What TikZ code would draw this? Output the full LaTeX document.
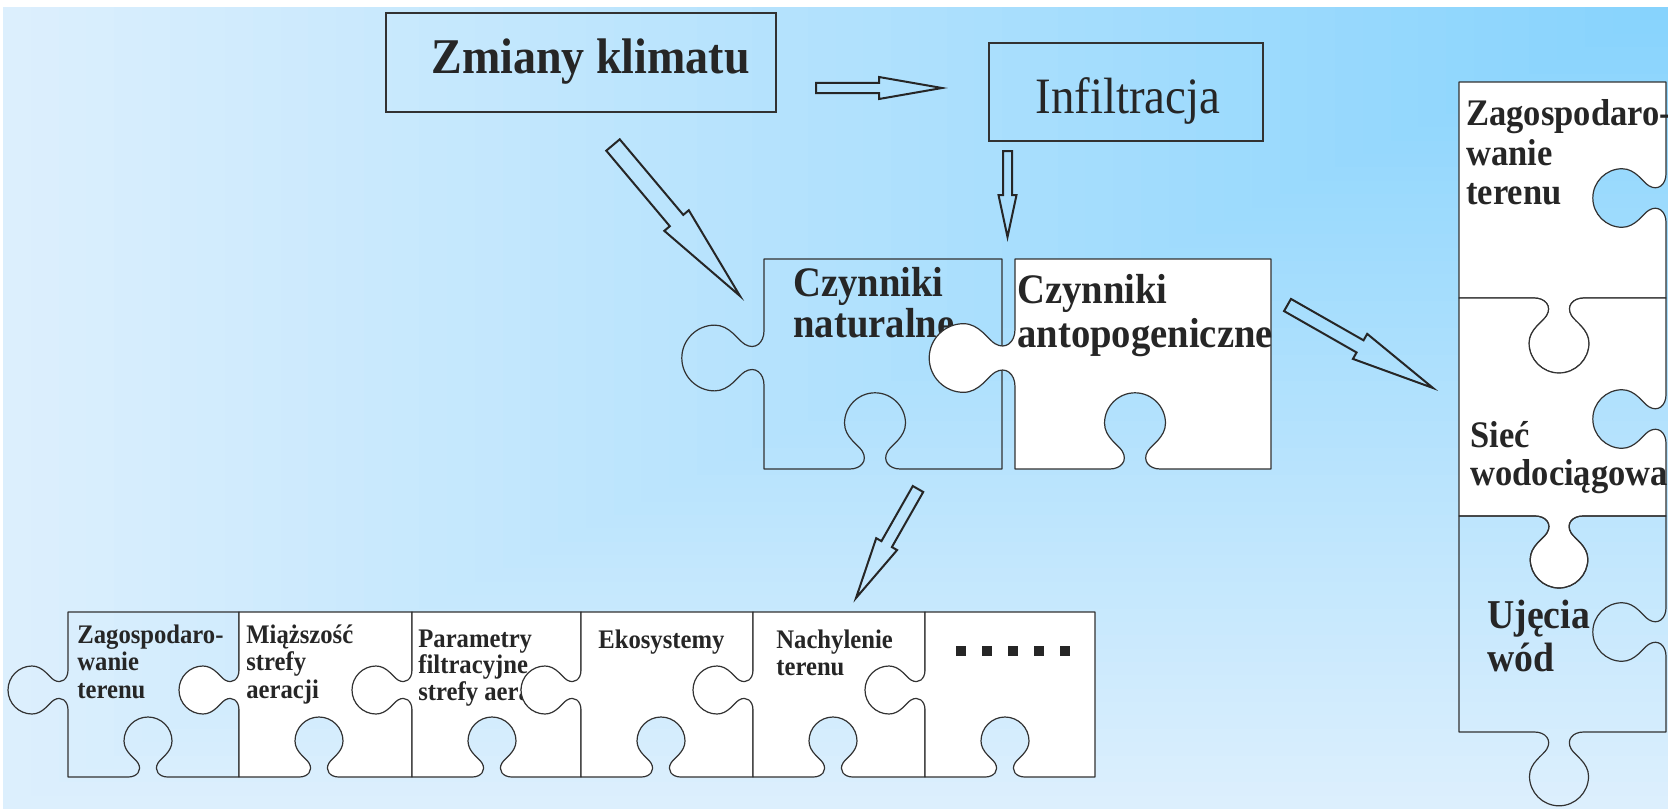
\documentclass[tikz,border=0pt]{standalone}
\usepackage{fontspec}
\setmainfont{Liberation Serif}[FakeStretch=0.92]
\usetikzlibrary{calc}
\definecolor{bgdark}{RGB}{134,211,253}
\definecolor{bglight}{RGB}{220,239,253}
\definecolor{ink}{RGB}{38,38,38}
\definecolor{edgec}{RGB}{50,50,50}

\newcommand\mlines[1]{\vtop{\lineskiplimit=-50pt\lineskip=0pt\halign{##\hfil\cr#1\crcr}}}

% knob coordinates: name, cx, cy, along-x, along-y, out-x, out-y, scale
\newcommand\mkknob[8]{%
  \foreach \kI/\kU/\kV in {0/-20/0,1/-11/0,2/-5.5/6.5,3/-10/14,4/-13/19,5/-24/25,6/-24/36,7/-24/49.2,8/-13.2/60,9/0/60,10/13.2/60,11/24/49.2,12/24/36,13/24/25,14/13/19,15/10/14,16/5.5/6.5,17/11/0,18/20/0}
    {\coordinate (#1-\kI) at ({#2+#8*((\kU)*(#4)+(\kV)*(#6))},{#3+#8*((\kU)*(#5)+(\kV)*(#7))});}%
}

\tikzset{
  kp/.style={insert path={-- (#1-0) .. controls (#1-1) and (#1-2) .. (#1-3) .. controls (#1-4) and (#1-5) .. (#1-6) .. controls (#1-7) and (#1-8) .. (#1-9) .. controls (#1-10) and (#1-11) .. (#1-12) .. controls (#1-13) and (#1-14) .. (#1-15) .. controls (#1-16) and (#1-17) .. (#1-18)}},
  piece/.style={draw=edgec, line width=0.6pt, line join=round},
  box/.style={draw=edgec, line width=0.65pt, inner sep=0pt},
  arrowline/.style={draw=ink, line width=1pt, line join=miter},
  lbl/.style={anchor=base west, inner sep=0pt, text=ink},
}

% block arrow: tail, tip, shaft half width, head half width, head length
\newcommand\blockarrow[5]{%
  \path ($(#2)!#5!(#1)$) coordinate (#2-base);
  \draw[arrowline] ($(#1)!#3!90:(#2)$) -- ($(#2-base)!#3!90:(#2)$) -- ($(#2-base)!#4!90:(#2)$) -- (#2) -- ($(#2-base)!#4!-90:(#2)$) -- ($(#2-base)!#3!-90:(#2)$) -- ($(#1)!#3!-90:(#2)$) -- cycle;
}

% bottom-row piece: name, left, right, fill
\newcommand\bpiece[4]{%
  \mkknob{#1b}{#2+80}{777}{-1}{0}{0}{-1}{1}
  \mkknob{#1l}{#2}{690}{0}{-1}{-1}{0}{1}
  \draw[piece, fill=#4] (#2,612) -- (#3,612) -- (#3,777) [kp=#1b] -- (#2,777) [kp=#1l] -- cycle;
}

\begin{document}
\begin{tikzpicture}[x=0.5pt, y=-0.5pt]
\useasboundingbox (0,0) rectangle (1668,809);
\fill[white] (0,0) rectangle (1668,809);
% background: rectangular gradient from the top-right corner
\foreach \k in {60,59,...,1}{%
  \pgfmathsetmacro\vv{\k/60}%
  \pgfmathsetmacro\pp{100*\vv}%
  \fill[bglight!\pp!bgdark] ({1668-\vv*1665},7) rectangle (1668,{7+\vv*802});
}

% top boxes
\node[box, minimum width=195pt, minimum height=49.5pt] (zbox) at (581,62.5) {};
\node[lbl, font=\bfseries\fontsize{25}{30}\selectfont] (ztext) at (431,73) {Zmiany klimatu};
\node[box, minimum width=137pt, minimum height=49pt] (ibox) at (1126,92) {};
\node[lbl, font=\fontsize{25.5}{30}\selectfont] (itext) at (1035,113) {Infiltracja};

% arrows
\coordinate (a1t) at (816,88);   \coordinate (a1h) at (942,88);
\coordinate (a2t) at (1007.5,151); \coordinate (a2h) at (1007.5,237);
\coordinate (a3t) at (613,145);  \coordinate (a3h) at (740,296);
\coordinate (a4t) at (918,489);  \coordinate (a4h) at (856,598);
\coordinate (a5t) at (1287.5,305); \coordinate (a5h) at (1433,388);
\blockarrow{a1t}{a1h}{2.6pt}{5.5pt}{31.5pt}
\blockarrow{a2t}{a2h}{2.25pt}{4.5pt}{21pt}
\blockarrow{a3t}{a3h}{4.4pt}{8pt}{49.3pt}
\blockarrow{a4t}{a4h}{3pt}{6pt}{31pt}
\blockarrow{a5t}{a5h}{3.5pt}{7.2pt}{42pt}

% central pair
\mkknob{nb}{875}{469}{-1}{0}{0}{-1}{1.27}
\mkknob{nl}{764}{358}{0}{-1}{-1}{0}{1.37}
\draw[piece] (764,259) -- (1002,259) -- (1002,469) [kp=nb] -- (764,469) [kp=nl] -- cycle;
\node[lbl, font=\bfseries\fontsize{21}{20.5}\selectfont] (ntext) at (793,296) {\mlines{Czynniki\cr naturalne}};
\mkknob{ab}{1135}{469}{-1}{0}{0}{-1}{1.27}
\mkknob{al}{1015}{358}{0}{-1}{-1}{0}{1.43}
\draw[piece, fill=white] (1015,259) -- (1271,259) -- (1271,469) [kp=ab] -- (1015,469) [kp=al] -- cycle;
\node[lbl, font=\bfseries\fontsize{21}{22}\selectfont] (atext) at (1017,303) {\mlines{Czynniki\cr antopogeniczne}};

% bottom row
\bpiece{p1}{68}{239}{none}
\node[lbl, font=\bfseries\fontsize{13.4}{13.75}\selectfont] (t1) at (77,643) {\mlines{Zagospodaro-\cr wanie\cr terenu}};
\bpiece{p2}{239}{412}{white}
\node[lbl, font=\bfseries\fontsize{13.4}{13.75}\selectfont] (t2) at (246,643) {\mlines{Miąższość\cr strefy\cr aeracji}};
\bpiece{p3}{412}{581}{white}
\node[lbl, font=\bfseries\fontsize{13.4}{13.25}\selectfont] (t3) at (418,647) {\mlines{Parametry\cr filtracyjne\cr strefy aeracji}};
\bpiece{p4}{581}{753}{white}
\node[lbl, font=\bfseries\fontsize{13.4}{13.5}\selectfont] (t4) at (598,648) {Ekosystemy};
\bpiece{p5}{753}{925}{white}
\node[lbl, font=\bfseries\fontsize{13.4}{13.5}\selectfont] (t5) at (776,648) {\mlines{Nachylenie\cr terenu}};
\bpiece{p6}{925}{1095}{white}
\foreach \x in {956,982,1008,1034,1060} \fill[ink] (\x,646) rectangle ++(10,10);

% right column
\mkknob{r1r}{1666}{198}{0}{1}{-1}{0}{1.22}
\mkknob{r1b}{1559}{298}{-1}{0}{0}{1}{1.25}
\draw[piece, fill=white] (1459,82) -- (1666,82) [kp=r1r] -- (1666,298) [kp=r1b] -- (1459,298) -- cycle;
\node[lbl, font=\bfseries\fontsize{18.75}{19.65}\selectfont] (r1text) at (1466,125.7) {\mlines{Zagospodaro-\cr wanie\cr terenu}};
\mkknob{r2t}{1559}{298}{1}{0}{0}{1}{1.25}
\mkknob{r2r}{1666}{419}{0}{1}{-1}{0}{1.22}
\mkknob{r2b}{1559}{516}{-1}{0}{0}{1}{1.2}
\draw[piece, fill=white] (1459,298) [kp=r2t] -- (1666,298) [kp=r2r] -- (1666,516) [kp=r2b] -- (1459,516) -- cycle;
\node[lbl, font=\bfseries\fontsize{18.75}{19}\selectfont] (r2text) at (1470,447) {\mlines{Sieć\cr wodociągowa}};
\mkknob{r3t}{1559}{516}{1}{0}{0}{1}{1.2}
\mkknob{r3r}{1666}{632}{0}{1}{-1}{0}{1.22}
\mkknob{r3b}{1559}{732}{-1}{0}{0}{1}{1.23}
\draw[piece] (1459,516) [kp=r3t] -- (1666,516) [kp=r3r] -- (1666,732) [kp=r3b] -- (1459,732) -- cycle;
\node[lbl, font=\bfseries\fontsize{20.5}{21.5}\selectfont] (r3text) at (1487,628) {\mlines{Ujęcia\cr wód}};
\end{tikzpicture}
\end{document}
